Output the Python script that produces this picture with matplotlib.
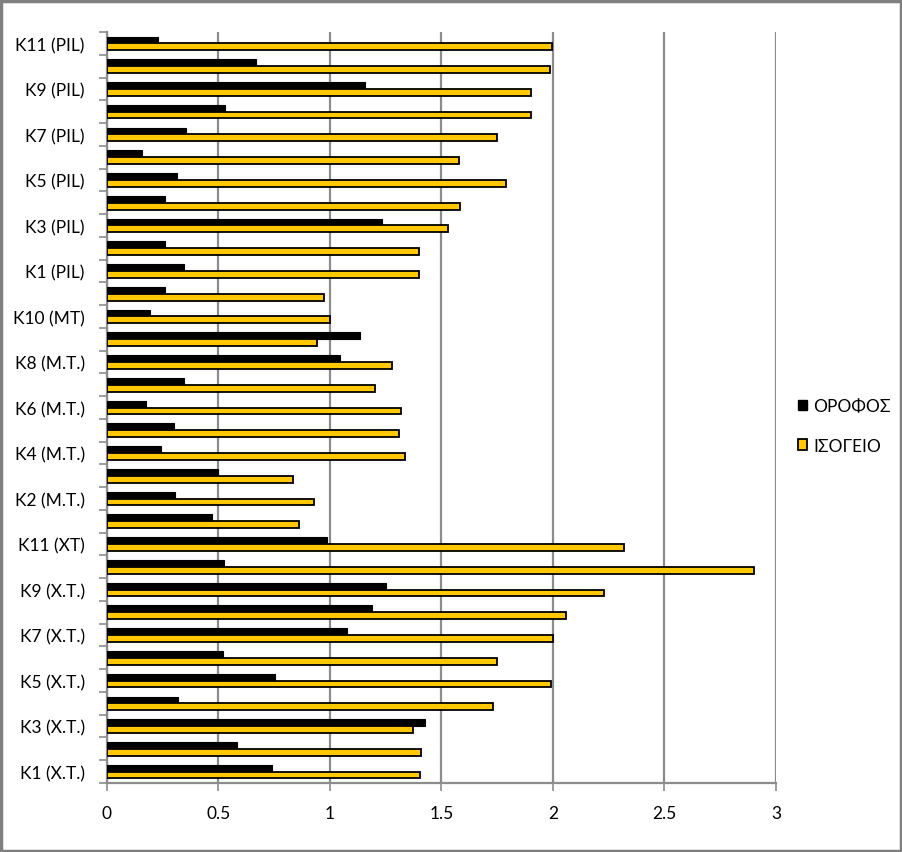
import matplotlib
matplotlib.use("Agg")
import matplotlib.pyplot as plt
import numpy as np
from matplotlib.patches import Patch, Rectangle

plt.rcParams["font.family"] = ["Lato", "DejaVu Sans"]

# categories bottom -> top, as the chart reads them
categories = [
    "K1 (X.T.)", "K2 (X.T.)", "K3 (X.T.)", "K4 (X.T.)", "K5 (X.T.)", "K6 (X.T.)",
    "K7 (X.T.)", "K8 (X.T.)", "K9 (X.T.)", "K10 (X.T.)", "K11 (XT)",
    "K1 (M.T.)", "K2 (M.T.)", "K3 (M.T.)", "K4 (M.T.)", "K5 (M.T.)", "K6 (M.T.)",
    "K7 (M.T.)", "K8 (M.T.)", "K9 (M.T.)", "K10 (MT)", "K11 (M.T.)",
    "K1 (PIL)", "K2 (PIL)", "K3 (PIL)", "K4 (PIL)", "K5 (PIL)", "K6 (PIL)",
    "K7 (PIL)", "K8 (PIL)", "K9 (PIL)", "K10 (PIL)", "K11 (PIL)",
]

orofos = [
    0.74, 0.585, 1.425, 0.32, 0.755, 0.52, 1.075, 1.19, 1.25, 0.525, 0.985,
    0.47, 0.305, 0.50, 0.24, 0.30, 0.175, 0.345, 1.045, 1.135, 0.195, 0.26,
    0.345, 0.26, 1.235, 0.26, 0.315, 0.155, 0.355, 0.53, 1.155, 0.67, 0.23,
]

isogeio = [
    1.405, 1.41, 1.37, 1.73, 1.99, 1.75, 2.0, 2.06, 2.23, 2.9, 2.32,
    0.86, 0.93, 0.835, 1.335, 1.31, 1.32, 1.2, 1.28, 0.94, 1.0, 0.975,
    1.4, 1.4, 1.53, 1.585, 1.79, 1.58, 1.75, 1.9, 1.9, 1.985, 1.995,
]

x_ticks = [0, 0.5, 1, 1.5, 2, 2.5, 3]
x_ticklabels = ["0", "0.5", "1", "1.5", "2", "2.5", "3"]

YELLOW = "#FFC800"
GRID = "#8C8C8C"
FS = 12.5

W, H = 903, 853
fig = plt.figure(figsize=(W / 100, H / 100), dpi=100)
ax = fig.add_axes([107 / W, 1 - 784 / H, 669 / W, (784 - 33) / H])

y = np.arange(len(categories))
h = 0.3
ax.barh(y + h / 2, orofos, height=h, color="black", edgecolor="black", linewidth=0.8, zorder=3)
ax.barh(y - h / 2, isogeio, height=h, color=YELLOW, edgecolor="black", linewidth=1.3, zorder=3)

ax.set_xlim(0, 3)
ax.set_ylim(-0.5, len(categories) - 0.5)
ax.set_xticks(x_ticks)
ax.set_xticklabels(x_ticklabels, fontsize=FS)
ax.set_yticks(y[::2])
ax.set_yticklabels(categories[::2], fontsize=FS)
ax.set_yticks(np.arange(-0.5, len(categories), 1.0), minor=True)

ax.tick_params(axis="y", which="major", length=0, pad=16)
ax.tick_params(axis="y", which="minor", length=6, color=GRID, width=1.2)
ax.tick_params(axis="x", which="major", length=6, color=GRID, width=1.2, pad=10)

ax.xaxis.grid(True, color=GRID, linewidth=1.6, zorder=0)
ax.set_axisbelow(True)
for side in ("top", "right"):
    ax.spines[side].set_visible(False)
for side in ("left", "bottom"):
    ax.spines[side].set_color(GRID)
    ax.spines[side].set_linewidth(1.6)

handles = [
    Patch(facecolor="black", edgecolor="black", label="ΟΡΟΦΟΣ"),
    Patch(facecolor=YELLOW, edgecolor="black", linewidth=1.3, label="ΙΣΟΓΕΙΟ"),
]
fig.legend(handles=handles, loc="center left", bbox_to_anchor=(782 / W, 1 - 427 / H),
           frameon=False, fontsize=FS, handlelength=0.55, handleheight=0.55,
           handletextpad=0.35, labelspacing=1.35)

fig.patches.append(Rectangle((0.001, 0.001), 0.997, 0.997, transform=fig.transFigure,
                             fill=False, edgecolor="#7F7F7F", linewidth=2.5))

fig.savefig("out.png", dpi=100)
